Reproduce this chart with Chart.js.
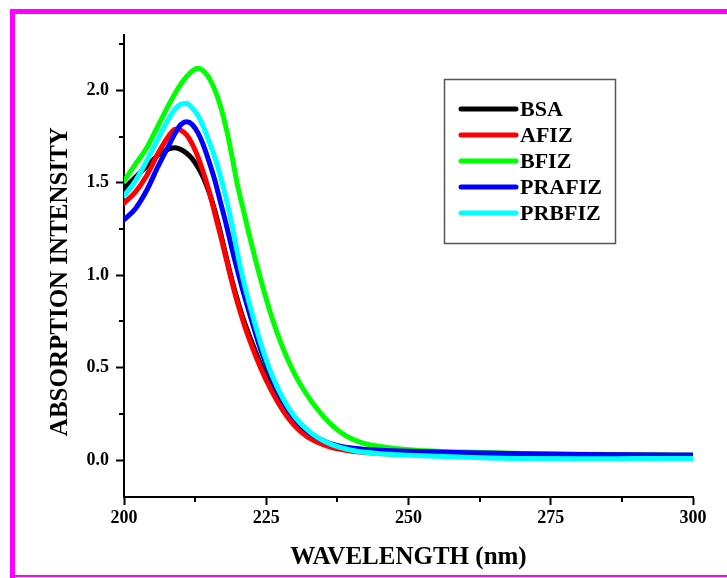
<!DOCTYPE html>
<html><head><meta charset="utf-8">
<script src="https://cdn.jsdelivr.net/npm/chart.js@4/dist/chart.umd.min.js"></script>
<style>html,body{margin:0;padding:0;background:#fff;}</style>
</head><body>
<canvas id="c" width="727" height="578"></canvas>
<script>
// ---- data ----
const wavelengths = [200,202,204,206,208,209,210,211,212,213,214,215,216,217,218,219,220,221,222,224,226,228,230,232,234,236,238,240,242,245,250,255,260,270,280,290,300];
const seriesLabels = ['BSA','AFIZ','BFIZ','PRAFIZ','PRBFIZ'];
const seriesColors = ['#000000','#ff0000','#00ff00','#0000ff','#00ffff'];
const bsa    = [1.47,1.53,1.59,1.65,1.685,1.69,1.68,1.66,1.63,1.585,1.525,1.445,1.345,1.225,1.095,0.97,0.86,0.76,0.675,0.52,0.39,0.285,0.205,0.148,0.11,0.084,0.066,0.054,0.047,0.041,0.036,0.032,0.03,0.027,0.025,0.023,0.022];
const afiz   = [1.39,1.45,1.54,1.66,1.76,1.79,1.785,1.76,1.71,1.64,1.55,1.45,1.33,1.21,1.085,0.96,0.845,0.745,0.655,0.50,0.37,0.265,0.185,0.13,0.096,0.073,0.058,0.048,0.042,0.036,0.031,0.027,0.025,0.022,0.02,0.02,0.02];
const bfiz   = [1.51,1.60,1.69,1.81,1.93,1.985,2.035,2.075,2.105,2.12,2.105,2.065,2.0,1.91,1.79,1.64,1.48,1.35,1.22,0.98,0.77,0.60,0.465,0.36,0.275,0.205,0.152,0.115,0.092,0.073,0.056,0.048,0.043,0.036,0.031,0.028,0.026];
const prafiz = [1.30,1.36,1.46,1.59,1.71,1.77,1.815,1.83,1.815,1.77,1.70,1.61,1.51,1.39,1.27,1.14,1.02,0.905,0.80,0.60,0.44,0.315,0.225,0.162,0.12,0.092,0.075,0.065,0.059,0.053,0.047,0.043,0.04,0.034,0.03,0.028,0.027];
const prbfiz = [1.43,1.51,1.62,1.74,1.855,1.90,1.925,1.93,1.905,1.865,1.80,1.72,1.635,1.53,1.41,1.27,1.11,0.97,0.85,0.635,0.46,0.33,0.235,0.17,0.122,0.09,0.068,0.053,0.043,0.034,0.026,0.02,0.015,0.008,0.007,0.008,0.009];
const xMajorTicks = [200,225,250,275,300];
const yMajorTicks = [0.0,0.5,1.0,1.5,2.0];
const xMinorTicks = [212.5,237.5,262.5,287.5];
const yMinorTicks = [0.25,0.75,1.25,1.75,2.25];

const allSeries = [bsa, afiz, bfiz, prafiz, prbfiz];
const datasets = allSeries.map((s, i) => ({
  label: seriesLabels[i],
  data: wavelengths.map((w, j) => ({x: w, y: s[j]})),
  borderColor: seriesColors[i],
  backgroundColor: seriesColors[i],
  borderWidth: 5,
  pointRadius: 0,
  fill: false,
  cubicInterpolationMode: 'monotone',
  borderCapStyle: 'round',
  borderJoinStyle: 'round',
  order: allSeries.length - i
}));

const FONT = 'Liberation Serif, Times New Roman, serif';

const decor = {
  id: 'decor',
  beforeDraw(chart) {
    const ctx = chart.ctx;
    ctx.save();
    ctx.fillStyle = '#ff00ff';
    ctx.fillRect(10, 9, 717, 5);
    ctx.fillRect(10, 9, 5, 569);
    ctx.fillRect(10, 575, 717, 2);
    ctx.restore();
  },
  afterDraw(chart) {
    const ctx = chart.ctx;
    const xs = chart.scales.x, ys = chart.scales.y;
    ctx.save();
    ctx.strokeStyle = '#000';
    ctx.lineWidth = 2;
    ctx.beginPath();
    xMinorTicks.forEach(v => { const px = Math.round(xs.getPixelForValue(v)); ctx.moveTo(px, xs.top); ctx.lineTo(px, xs.top + 5); });
    yMinorTicks.forEach(v => { const py = Math.round(ys.getPixelForValue(v)); ctx.moveTo(ys.right - 5, py); ctx.lineTo(ys.right, py); });
    ctx.stroke();
    // legend
    ctx.strokeStyle = '#555';
    ctx.lineWidth = 1.5;
    ctx.strokeRect(444.5, 79.5, 171, 164);
    ctx.font = 'bold 22px ' + FONT;
    ctx.textBaseline = 'middle';
    ctx.textAlign = 'left';
    chart.data.datasets.forEach((d, i) => {
      const y = 109 + i * 26;
      ctx.strokeStyle = d.borderColor;
      ctx.lineWidth = 5;
      ctx.lineCap = 'round';
      ctx.beginPath(); ctx.moveTo(461, y); ctx.lineTo(516, y); ctx.stroke();
      ctx.fillStyle = '#000';
      ctx.fillText(d.label, 520, y + 1);
    });
    ctx.restore();
  }
};

new Chart(document.getElementById('c'), {
  type: 'line',
  data: { datasets },
  plugins: [decor],
  options: {
    responsive: false,
    animation: false,
    layout: { padding: { left: 0, top: 35, right: 34, bottom: 0 } },
    plugins: { legend: { display: false }, tooltip: { enabled: false } },
    scales: {
      x: {
        type: 'linear', min: 200, max: 300,
        afterBuildTicks(s) { s.ticks = xMajorTicks.map(v => ({value: v})); },
        afterFit(s) { s.height = 81; },
        ticks: { color: '#000', font: { family: FONT, weight: 'bold', size: 18 }, padding: 3, maxRotation: 0, autoSkip: false,
          callback: v => String(v) },
        grid: { display: true, drawOnChartArea: false, drawTicks: true, tickLength: 8, tickWidth: 2, tickColor: '#000' },
        border: { display: true, color: '#000', width: 2 },
        title: { display: true, text: 'WAVELENGTH (nm)', color: '#000', font: { family: FONT, weight: 'bold', size: 25 }, padding: { top: 0, bottom: 5 } }
      },
      y: {
        type: 'linear', min: -0.2, max: 2.3,
        afterBuildTicks(s) { s.ticks = yMajorTicks.map(v => ({value: v})); },
        afterFit(s) { s.width = 124; },
        ticks: { color: '#000', font: { family: FONT, weight: 'bold', size: 18 }, padding: 7, autoSkip: false,
          callback: v => Number(v).toFixed(1) },
        grid: { display: true, drawOnChartArea: false, drawTicks: true, tickLength: 8, tickWidth: 2, tickColor: '#000' },
        border: { display: true, color: '#000', width: 2 },
        title: { display: true, text: 'ABSORPTION INTENSITY     ', color: '#000', font: { family: FONT, weight: 'bold', size: 25 }, padding: { top: 46, bottom: 0 } }
      }
    }
  }
});
</script>
</body></html>
